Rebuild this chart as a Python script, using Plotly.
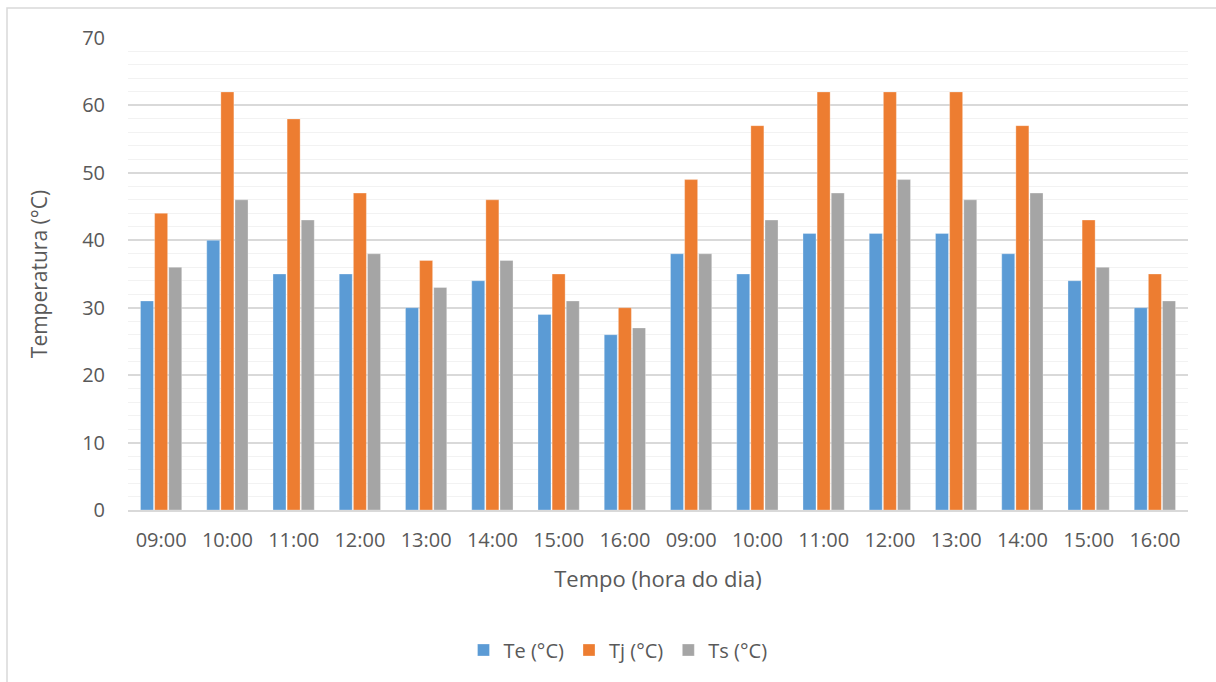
import plotly.graph_objects as go

# Hourly readings, two consecutive days
hours = ["09:00", "10:00", "11:00", "12:00", "13:00", "14:00", "15:00", "16:00",
         "09:00", "10:00", "11:00", "12:00", "13:00", "14:00", "15:00", "16:00"]
te = [31, 40, 35, 35, 30, 34, 29, 26, 38, 35, 41, 41, 41, 38, 34, 30]
tj = [44, 62, 58, 47, 37, 46, 35, 30, 49, 57, 62, 62, 62, 57, 43, 35]
ts = [36, 46, 43, 38, 33, 37, 31, 27, 38, 43, 47, 49, 46, 47, 36, 31]

series = [
    ("Te (°C)", te, "#5B9BD5"),
    ("Tj (°C)", tj, "#ED7D31"),
    ("Ts (°C)", ts, "#A5A5A5"),
]

positions = list(range(len(hours)))
text_color = "#595959"
font_family = "Open Sans, Liberation Sans, sans-serif"

fig = go.Figure()
for name, values, color in series:
    fig.add_trace(go.Bar(
        x=positions, y=values, name=name,
        marker=dict(color=color, line=dict(color="rgba(255,255,255,0.6)", width=0.5)),
    ))

W, H = 1216, 682
ml, mr, mt, mb = 128, 28, 38, 172
pw, ph = W - ml - mr, H - mt - mb

fig.update_layout(
    width=W, height=H,
    margin=dict(l=ml, r=mr, t=mt, b=mb),
    paper_bgcolor="white", plot_bgcolor="white",
    barmode="group", bargap=0.36, bargroupgap=0.08,
    font=dict(family=font_family, color=text_color, size=20),
    showlegend=True,
    legend=dict(orientation="h", x=(618 - ml) / pw, xanchor="center",
                y=-(650 - (mt + ph)) / ph, yanchor="middle",
                font=dict(size=20, color=text_color),
                itemwidth=30, tracegroupgap=0),
    xaxis=dict(
        tickmode="array", tickvals=positions, ticktext=hours,
        range=[-0.5, len(hours) - 0.5],
        showgrid=False, zeroline=False,
        showline=True, linecolor="#D9D9D9", linewidth=1.5,
        ticks="", ticklabelstandoff=11,
        tickfont=dict(size=20, color=text_color),
        title=dict(text="Tempo (hora do dia)", font=dict(size=22, color=text_color), standoff=20),
    ),
    yaxis=dict(
        range=[0, 70], dtick=10, tick0=0,
        showgrid=True, gridcolor="#D9D9D9", gridwidth=1.5,
        minor=dict(dtick=2, showgrid=True, gridcolor="#F2F2F2", gridwidth=1),
        zeroline=False, showline=False, ticks="", ticklabelstandoff=22,
        tickfont=dict(size=20, color=text_color),
        title=dict(text="Temperatura (°C)", font=dict(size=21, color=text_color), standoff=28),
    ),
)

# Chart-area frame (top and left edges visible within the page)
fig.add_shape(
    type="rect", xref="paper", yref="paper",
    x0=(7 - ml) / pw, x1=(W + 10 - ml) / pw,
    y0=-(H + 10 - mt - ph) / ph, y1=(mt + ph - 8) / ph,
    line=dict(color="#D9D9D9", width=1.5), fillcolor="rgba(0,0,0,0)", layer="below",
)

fig.write_html("out.html")
